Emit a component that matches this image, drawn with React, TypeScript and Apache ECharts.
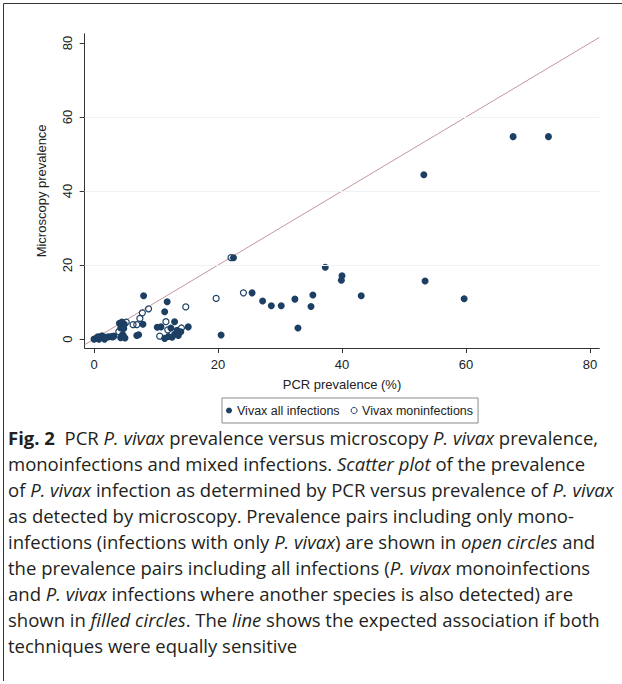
import React, { useEffect, useRef } from "react";
import * as echarts from "echarts";

const xTicks = [0, 20, 40, 60, 80];
const yTicks = [0, 20, 40, 60, 80];
const gridLinesY = [20, 40, 60];

const allInfections: number[][] = [
  [0.0, 0.0], [0.4, 0.2], [0.8, 0.0], [1.0, 0.6], [1.3, 0.9], [1.5, 0.3], [1.9, 0.5], [2.3, 0.6], [2.8, 0.7], [3.2, 0.8], [0.6, 0.6], [1.7, 0.0],
  [4.1, 4.3], [4.5, 4.6], [4.9, 4.0], [4.3, 3.0], [4.8, 2.9], [4.6, 1.2], [5.0, 0.3], [4.3, 0.4],
  [6.9, 1.0], [7.2, 1.2], [7.9, 4.0], [8.0, 11.7],
  [10.2, 3.2], [10.8, 3.3], [11.8, 10.1], [11.4, 7.4], [13.0, 4.7], [12.4, 3.0], [13.4, 2.4], [14.0, 2.0], [13.0, 1.3], [12.0, 0.7], [11.4, 0.2], [12.6, 0.5], [15.2, 3.3], [13.6, 1.0],
  [20.5, 1.1], [22.5, 22.0], [25.5, 12.5], [27.2, 10.3], [28.6, 9.0], [30.2, 9.0], [32.4, 10.8], [32.9, 3.0], [35.0, 8.8], [35.3, 11.9], [37.3, 19.4], [40.0, 17.1], [39.9, 15.9], [43.1, 11.7], [53.2, 44.4], [53.4, 15.7], [59.7, 10.9], [67.6, 54.7], [73.3, 54.7],
];

const monoInfections: number[][] = [
  [22.1, 22.0], [24.1, 12.5], [19.7, 11.0], [14.8, 8.7], [11.6, 4.7], [14.1, 3.0], [10.6, 0.8], [11.9, 2.5],
  [8.8, 8.2], [7.8, 7.1], [7.4, 5.6], [6.9, 3.9], [6.3, 3.9], [5.2, 4.6], [4.0, 2.0], [4.7, 1.0], [3.0, 0.6],
];

const xRange = [-1.5, 81.5];
const yRange = [-2.4, 82.5];
const equalityLine: number[][] = [[-1.5, -1.5], [81.5, 81.5]];

const seriesNames = ["Vivax all infections", "Vivax moninfections"];

const NAVY = "#1c3f63";
const AXIS_FONT = "'Liberation Sans', Arial, sans-serif";
const CAP_FONT = "'Open Sans', Lato, sans-serif";

const captionLines: string[] = [
  "{b|Fig. 2}{n|  PCR }{i|P. vivax}{n| prevalence versus microscopy }{i|P. vivax}{n| prevalence,}",
  "{n|monoinfections and mixed infections. }{i|Scatter plot}{n| of the prevalence}",
  "{n|of }{i|P. vivax}{n| infection as determined by PCR versus prevalence of }{i|P. vivax}",
  "{n|as detected by microscopy. Prevalence pairs including only mono-}",
  "{n|infections (infections with only }{i|P. vivax}{n|) are shown in }{i|open circles}{n| and}",
  "{n|the prevalence pairs including all infections (}{i|P. vivax}{n| monoinfections}",
  "{n|and }{i|P. vivax}{n| infections where another species is also detected) are}",
  "{n|shown in }{i|filled circles}{n|. The }{i|line}{n| shows the expected association if both}",
  "{n|techniques were equally sensitive}",
];

const labelStyle = { fontFamily: AXIS_FONT, fontSize: 13, color: "#222" };

export default function App() {
  const ref = useRef<HTMLDivElement>(null);
  useEffect(() => {
    if (!ref.current) return;
    const chart = echarts.init(ref.current, undefined, { renderer: "svg" });
    const capSize = 18.5;
    const tok = (style: string, weight: string) => ({
      fontFamily: CAP_FONT,
      fontSize: capSize,
      fontStyle: style,
      fontWeight: weight,
      fill: "#231f20",
    });
    const captionGraphics = captionLines.map((t, i) => ({
      type: "text",
      left: 8,
      top: 428 + i * 26,
      style: {
        text: t,
        fontFamily: CAP_FONT,
        fontSize: capSize,
        fill: "#231f20",
        rich: {
          n: tok("normal", "normal"),
          i: tok("italic", "normal"),
          b: tok("normal", "bold"),
        },
      },
    }));
    chart.setOption({
      animation: false,
      backgroundColor: "#ffffff",
      grid: { left: 84.7, right: 22.7, top: 33.75, bottom: 336, outerBoundsMode: "none" },
      legend: {
        left: 222,
        top: 398,
        orient: "horizontal",
        itemWidth: 6,
        itemHeight: 6,
        itemGap: 11,
        padding: [6, 5, 6, 4],
        borderColor: "#8a8a8a",
        borderWidth: 1,
        backgroundColor: "#fff",
        textStyle: { fontFamily: AXIS_FONT, fontSize: 12.5, color: "#222" },
        data: [
          { name: seriesNames[0], icon: "circle", itemStyle: { color: NAVY } },
          { name: seriesNames[1], icon: "circle", itemStyle: { color: "rgba(0,0,0,0)", borderColor: NAVY, borderWidth: 1 } },
        ],
      },
      xAxis: {
        type: "value",
        min: xRange[0],
        max: xRange[1],
        name: "PCR prevalence (%)",
        nameLocation: "middle",
        nameGap: 30,
        nameMoveOverlap: false,
        nameTextStyle: labelStyle,
        axisLine: { show: true, onZero: false, lineStyle: { color: "#333", width: 1 } },
        axisTick: { show: true, length: 5, customValues: xTicks, lineStyle: { color: "#333" } },
        axisLabel: {
          ...labelStyle,
          customValues: xTicks,
          showMaxLabel: true,
          showMinLabel: true,
          hideOverlap: false,
          margin: 10,
        },
        splitLine: { show: false },
      },
      yAxis: {
        type: "value",
        min: yRange[0],
        max: yRange[1],
        name: "Microscopy prevalence",
        nameLocation: "middle",
        nameRotate: 90,
        nameGap: 37,
        nameMoveOverlap: false,
        nameTextStyle: labelStyle,
        axisLine: { show: true, onZero: false, lineStyle: { color: "#333", width: 1 } },
        axisTick: { show: true, length: 5, customValues: yTicks, lineStyle: { color: "#333" } },
        axisLabel: {
          ...labelStyle,
          customValues: yTicks,
          showMaxLabel: true,
          showMinLabel: true,
          rotate: 90,
          margin: 11,
        },
        splitLine: { show: false },
      },
      series: [
        {
          type: "line",
          data: equalityLine,
          showSymbol: false,
          symbol: "none",
          silent: true,
          z: 1,
          lineStyle: { color: "#c4979c", width: 1 },
          markLine: {
            silent: true,
            symbol: "none",
            label: { show: false },
            lineStyle: { color: "#eef1f5", width: 1, type: "solid" },
            data: gridLinesY.map((v) => ({ yAxis: v })),
          },
        },
        {
          name: seriesNames[0],
          type: "scatter",
          data: allInfections,
          symbol: "circle",
          symbolSize: 7,
          z: 3,
          itemStyle: { color: NAVY, opacity: 1 },
        },
        {
          name: seriesNames[1],
          type: "scatter",
          data: monoInfections,
          symbol: "circle",
          symbolSize: 6,
          z: 4,
          itemStyle: { color: "rgba(0,0,0,0)", borderColor: NAVY, borderWidth: 1.2, opacity: 1 },
        },
      ],
      graphic: [
        {
          type: "polyline",
          shape: { points: [[3.5, 681], [3.5, 3.5], [622, 3.5]] },
          style: { stroke: "#333", lineWidth: 1, fill: "none" },
          silent: true,
        },
        ...captionGraphics,
      ],
    });
    return () => chart.dispose();
  }, []);
  return (
    <div style={{ position: "fixed", left: 0, top: 0, width: 622, height: 684, background: "#fff" }}>
      <div ref={ref} style={{ width: 622, height: 684 }} />
    </div>
  );
}
